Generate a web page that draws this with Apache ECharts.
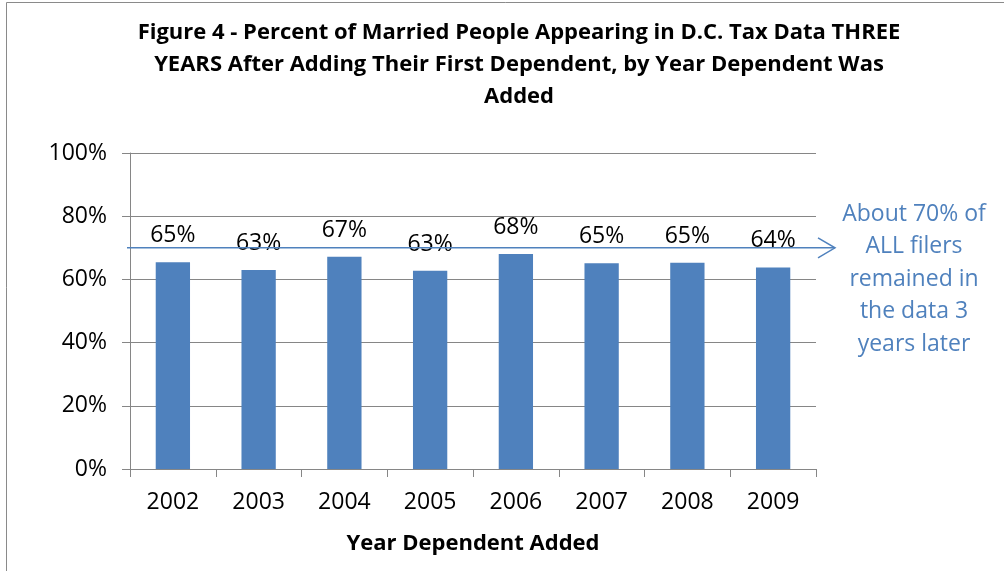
<!DOCTYPE html>
<html>
<head>
<meta charset="utf-8">
<script src="https://cdn.jsdelivr.net/npm/echarts@6/dist/echarts.min.js"></script>
<style>
  html, body { margin: 0; padding: 0; background: #fff; }
  #chart { width: 1004px; height: 571px; }
</style>
</head>
<body>
<div id="chart"></div>
<script>
const years = ['2002', '2003', '2004', '2005', '2006', '2007', '2008', '2009']
const percentStayed = [65.4, 63.0, 67.2, 62.7, 68.0, 65.1, 65.3, 63.8]
const allFilersPct = 70
const noteText = 'About 70% of\nALL filers\nremained in\nthe data 3\nyears later'

const font = 'Open Sans'
const blue = '#4F81BD'
const gray = '#868686'

const chart = echarts.init(document.getElementById('chart'))

const option = {
    animation: false,
    title: {
        text: 'Figure 4 - Percent of Married People Appearing in D.C. Tax Data THREE\nYEARS After Adding Their First Dependent, by Year Dependent Was\nAdded',
        left: 519,
        top: 17,
        padding: 0,
        textAlign: 'center',
        textStyle: {
            fontFamily: font,
            fontWeight: 'bold',
            fontSize: 22,
            lineHeight: 32,
            color: '#000'
        }
    },
    grid: {
        left: 130,
        right: 188,
        top: 153,
        bottom: 102
    },
    xAxis: {
        type: 'category',
        data: years,
        name: 'Year Dependent Added',
        nameLocation: 'middle',
        nameGap: 64,
        nameTextStyle: {
            fontFamily: font,
            fontWeight: 'bold',
            fontSize: 22,
            color: '#000'
        },
        axisLine: { lineStyle: { color: gray, width: 1 } },
        axisTick: { show: true, length: 8, lineStyle: { color: gray } },
        axisLabel: {
            margin: 22,
            fontFamily: font,
            fontSize: 23,
            color: '#000'
        }
    },
    yAxis: {
        type: 'value',
        min: 0,
        max: 100,
        interval: 20,
        axisLine: { show: true, lineStyle: { color: gray, width: 1 } },
        axisTick: { show: true, length: 8, lineStyle: { color: gray } },
        splitLine: { show: true, lineStyle: { color: gray, width: 1 } },
        axisLabel: {
            margin: 23,
            formatter: '{value}%',
            fontFamily: font,
            fontSize: 23,
            color: '#000'
        }
    },
    series: [{
        type: 'bar',
        data: percentStayed,
        barWidth: '40%',
        itemStyle: { color: blue },
        label: {
            show: true,
            position: 'top',
            distance: 15,
            fontFamily: font,
            fontSize: 23,
            color: '#000',
            formatter(params) {
                return Math.round(params.value) + '%'
            }
        }
    }]
}

chart.setOption(option)

// reference line at 70% with open arrow head, plus note
const lineY = chart.convertToPixel({ yAxisIndex: 0 }, allFilersPct)
const x0 = 127
const x1 = 1004 - 188 + 19

chart.setOption({
    graphic: [
        {
            type: 'rect',
            shape: { x: 6.5, y: 2.5, width: 1100, height: 700 },
            style: { fill: 'none', stroke: '#8a8a8a', lineWidth: 1 },
            silent: true
        },
        {
            type: 'line',
            shape: { x1: x0, y1: lineY, x2: x1, y2: lineY },
            style: { stroke: blue, lineWidth: 1.5 },
            z: 10
        },
        {
            type: 'polyline',
            shape: { points: [[x1 - 17, lineY - 10], [x1, lineY], [x1 - 17, lineY + 10]] },
            style: { stroke: blue, lineWidth: 1.5, fill: 'none' },
            z: 10
        },
        {
            type: 'text',
            x: 914,
            y: 279,
            style: {
                text: noteText,
                align: 'center',
                verticalAlign: 'middle',
                fontFamily: font,
                fontSize: 23,
                lineHeight: 32.5,
                fill: blue
            }
        }
    ]
})
</script>
</body>
</html>
